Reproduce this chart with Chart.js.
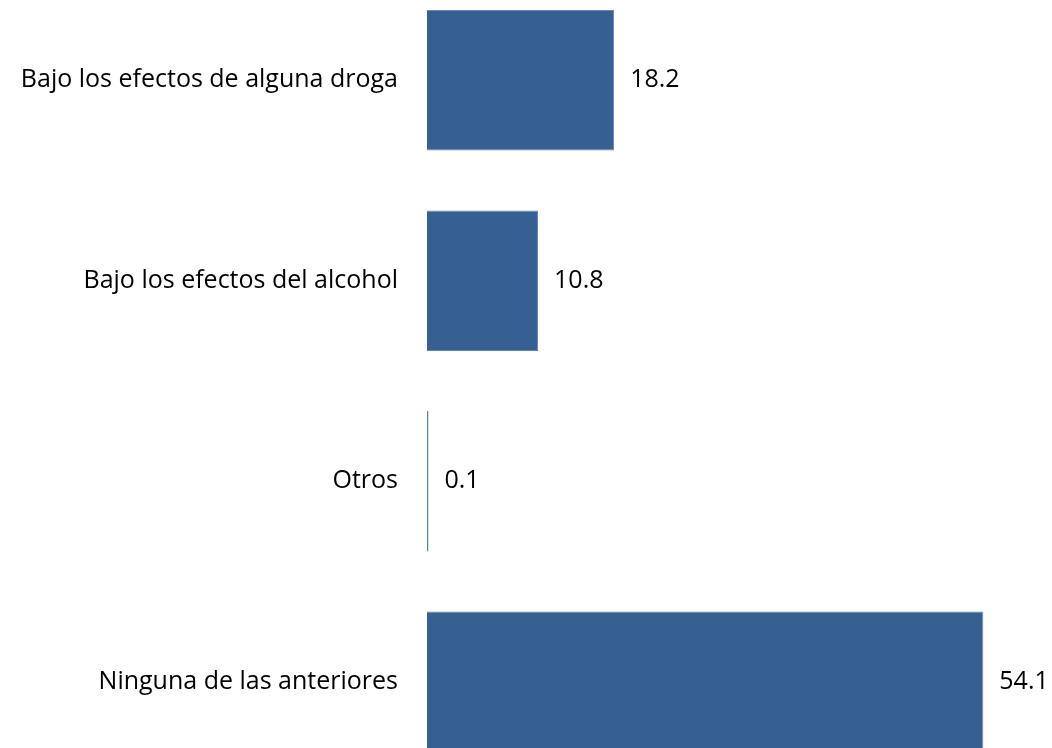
<!DOCTYPE html>
<html>
<head>
<meta charset="utf-8">
<script src="https://cdn.jsdelivr.net/npm/chart.js@4/dist/chart.umd.min.js"></script>
<style>
  html, body { margin: 0; padding: 0; background: #fff; overflow: hidden; width: 1052px; height: 748px; }
  #barChart { position: absolute; left: 0; top: -20px; }
</style>
</head>
<body>
<canvas id="barChart" width="1052" height="802"></canvas>
<script>
    // datos
    var categorias = ["Bajo los efectos de alguna droga", "Bajo los efectos del alcohol", "Otros", "Ninguna de las anteriores"];
    var valores = [18.2, 10.8, 0.1, 54.1];

    var fuente = "'Open Sans', sans-serif";

    // etiquetas de valor a la derecha de cada barra
    var etiquetas = {
        id: 'etiquetas',
        afterDatasetsDraw: function (chart) {
            var ctx = chart.ctx;
            var meta = chart.getDatasetMeta(0);
            ctx.save();
            ctx.font = '25px ' + fuente;
            ctx.fillStyle = '#000';
            ctx.textAlign = 'left';
            ctx.textBaseline = 'middle';
            meta.data.forEach(function (bar, i) {
                ctx.fillText(valores[i].toFixed(1), bar.x + 16, bar.y);
            });
            ctx.restore();
        }
    };

    var ctx = document.getElementById("barChart");
    var grafico = new Chart(ctx, {
        type: 'bar',
        data: {
            labels: categorias,
            datasets: [{
                data: valores,
                backgroundColor: '#376092',
                borderColor: function (c) { return valores[c.dataIndex] < 1 ? '#4f7cc4' : '#5f86bd'; },
                borderWidth: 1,
                categoryPercentage: 0.7,
                barPercentage: 1.0,
                minBarLength: 1.5
            }]
        },
        options: {
            indexAxis: 'y',
            responsive: false,
            animation: false,
            layout: { padding: { top: 0, bottom: 0, left: 0, right: 8 } },
            plugins: {
                legend: { display: false },
                tooltip: { enabled: false }
            },
            scales: {
                x: {
                    display: false,
                    min: 0,
                    max: 60
                },
                y: {
                    grid: { display: false, drawTicks: false },
                    border: { display: false },
                    afterFit: function (scale) {
                        scale.width = 427;
                        scale.paddingTop = 0;
                        scale.paddingBottom = 0;
                    },
                    ticks: {
                        padding: 29,
                        color: '#000',
                        font: { family: fuente, size: 25 }
                    }
                }
            }
        },
        plugins: [etiquetas]
    });
</script>
</body>
</html>
